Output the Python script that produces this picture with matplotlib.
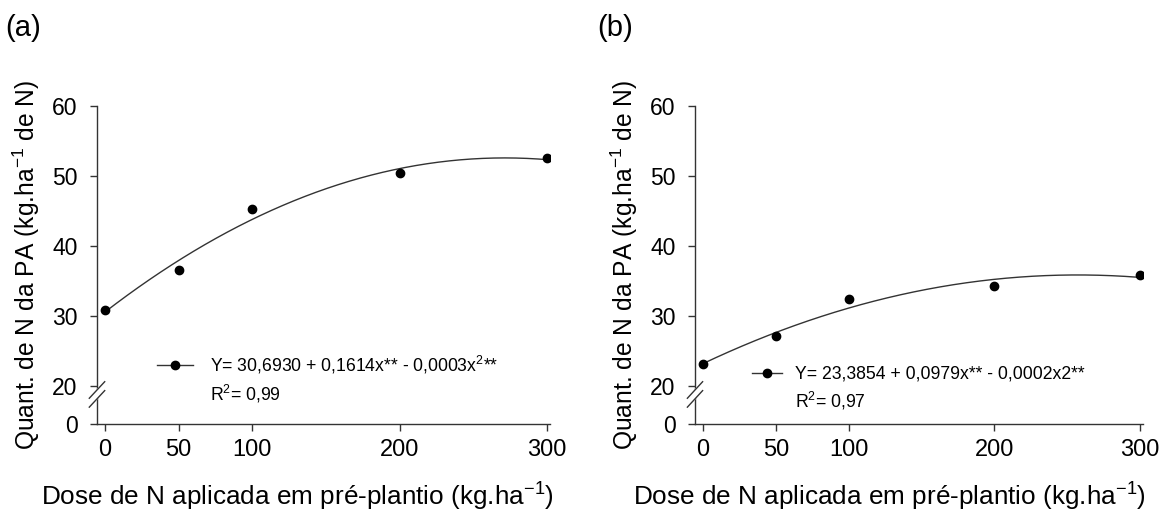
import numpy as np
import matplotlib
matplotlib.use("Agg")
import matplotlib.pyplot as plt
from matplotlib.lines import Line2D

plt.rcParams['font.family'] = ['Liberation Sans', 'DejaVu Sans']

dose = [0, 50, 100, 200, 300]
qn_a = [30.9, 36.6, 45.3, 50.4, 52.5]
qn_b = [23.1, 27.1, 32.4, 34.3, 35.8]

eq_a = r"Y= 30,6930 + 0,1614x** - 0,0003x$^{\mathregular{2}}$**"
r2_a = r"R$^{\mathregular{2}}$= 0,99"
eq_b = "Y= 23,3854 + 0,0979x** - 0,0002x2**"
r2_b = r"R$^{\mathregular{2}}$= 0,97"

xticks = [0, 50, 100, 200, 300]
yticks = [0, 20, 30, 40, 50, 60]


# broken y axis: 0..20 squeezed into a short stretch
def fwd(y):
    y = np.asarray(y, float)
    return np.where(y >= 20, y, 14.57 + y * 0.2715)


def inv(v):
    v = np.asarray(v, float)
    return np.where(v >= 20, v, (v - 14.57) / 0.2715)


fig = plt.figure(figsize=(11.76, 5.16), dpi=100)
ax_a = fig.add_axes([97 / 1176, 92 / 516, 453 / 1176, 318 / 516])
ax_b = fig.add_axes([695 / 1176, 92 / 516, 448 / 1176, 318 / 516])


def draw(ax, y, eq, r2, tag, tagx, leg_xy, hlen, hpad, xlab_x):
    ax.set_yscale('function', functions=(fwd, inv))
    c = np.polyfit(dose, y, 2)
    xs = np.linspace(0, 300, 200)
    ax.plot(xs, np.polyval(c, xs), color='#333333', lw=1.0, zorder=3)
    ax.plot(dose, y, 'o', color='black', ms=6, zorder=4)
    ax.set_xlim(-5.4, 302)
    ax.set_ylim(0, 60)
    ax.set_xticks(xticks)
    ax.set_yticks(yticks)
    for s in ['top', 'right']:
        ax.spines[s].set_visible(False)
    for s in ['left', 'bottom']:
        ax.spines[s].set_color('#333333')
        ax.spines[s].set_linewidth(1.0)
    ax.tick_params(axis='both', direction='out', length=5, width=1.0,
                   color='#333333')
    ax.tick_params(axis='y', pad=9, labelsize=16.5)
    ax.tick_params(axis='x', pad=6, labelsize=17)
    ax.set_xlabel(r"Dose de N aplicada em pré-plantio (kg.ha$^{\mathregular{-1}}$)",
                  fontsize=18.8)
    ax.xaxis.set_label_coords(xlab_x, -0.172)
    ax.set_ylabel(r"Quant. de N da PA (kg.ha$^{\mathregular{-1}}$ de N)",
                  fontsize=17.7, labelpad=7)

    # axis break marks
    kw = dict(transform=ax.transAxes, clip_on=False)
    dx, dy = 0.017, 0.026
    y1, y2 = 0.107, 0.079
    ax.fill([-dx, dx, dx, -dx], [y1 - dy, y1 + dy, y2 + dy, y2 - dy],
            color='white', zorder=5, **kw)
    ax.plot([-dx, dx], [y1 - dy, y1 + dy], color='#333333', lw=1.0, zorder=6, **kw)
    ax.plot([-dx, dx], [y2 - dy, y2 + dy], color='#333333', lw=1.0, zorder=6, **kw)

    h1 = Line2D([], [], color='#333333', lw=1.0, marker='o', ms=6,
                markerfacecolor='black', markeredgecolor='black')
    h2 = Line2D([], [], color='none')
    ax.legend([h1, h2], [eq, r2], loc='upper left', bbox_to_anchor=leg_xy,
              frameon=False, fontsize=12.7, handlelength=hlen, handletextpad=hpad,
              borderpad=0, borderaxespad=0, labelspacing=0.4)

    fig.text(tagx, 0.946, tag, fontsize=21, va='center', ha='left')


draw(ax_a, qn_a, eq_a, r2_a, "(a)", 5 / 1176, (0.132, 0.22), 2.07, 0.92, 0.4415)
draw(ax_b, qn_b, eq_b, r2_b, "(b)", 597 / 1176, (0.127, 0.183), 1.72, 0.75, 0.435)

fig.savefig("out.png", dpi=100)
